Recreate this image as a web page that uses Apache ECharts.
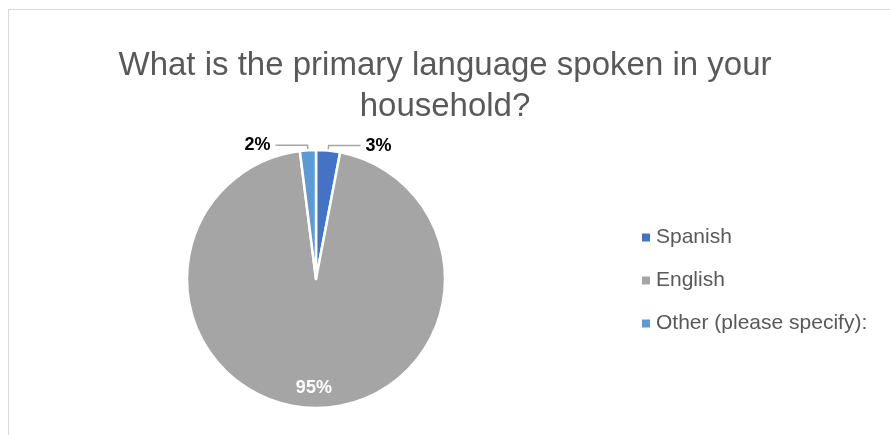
<!DOCTYPE html>
<html>
<head>
<meta charset="utf-8" />
<title>Primary language</title>
<script type="text/javascript" src="https://cdn.jsdelivr.net/npm/echarts@6/dist/echarts.min.js"></script>
</head>
<body style="margin:0;background-color:white;">
<div id="main" style="width:890px;height:435px;"></div>
<script type="text/javascript">
    var categories = ['Spanish', 'English', 'Other (please specify):'];
    var values = [3, 95, 2];
    var colors = ['#4472C4', '#A5A5A5', '#5B9BD5'];

    var myChart = echarts.init(document.getElementById('main'));

    var pieData = [];
    for (var i = 0; i < categories.length; i++) {
        pieData.push({
            name: categories[i],
            value: values[i],
            itemStyle: { color: colors[i] }
        });
    }
    // 95% label sits inside, white
    pieData[1].label = { position: 'inside', color: '#ffffff' };
    pieData[1].labelLine = { show: false };

    myChart.setOption({
        animation: false,
        title: {
            text: 'What is the primary language spoken in your\nhousehold?',
            left: 'center',
            top: 40,
            textStyle: {
                fontFamily: 'Liberation Sans',
                fontSize: 33,
                fontWeight: 'normal',
                color: '#595959',
                lineHeight: 41
            }
        },
        legend: {
            orient: 'vertical',
            left: 635,
            top: 222,
            itemWidth: 10,
            itemHeight: 10,
            itemGap: 22,
            icon: 'rect',
            data: categories,
            textStyle: {
                fontFamily: 'Liberation Sans',
                fontSize: 21,
                color: '#595959'
            }
        },
        graphic: [{
            type: 'rect',
            shape: { x: 8.5, y: 9.5, width: 900, height: 440 },
            style: { fill: 'none', stroke: '#d9d9d9', lineWidth: 1 },
            silent: true
        }],
        series: [{
            type: 'pie',
            center: [316, 279],
            radius: 129,
            startAngle: 90,
            clockwise: true,
            avoidLabelOverlap: false,
            itemStyle: { borderColor: '#ffffff', borderWidth: 2.5 },
            label: {
                show: true,
                formatter: '{d}%',
                fontFamily: 'Liberation Sans',
                fontSize: 18,
                fontWeight: 'bold',
                color: '#000000'
            },
            labelLine: {
                show: true,
                length: 5,
                length2: 32,
                lineStyle: { color: '#a6a6a6', width: 1.5 }
            },
            labelLayout: function (params) {
                if (params.dataIndex === 1) {
                    return { dy: 42 };
                }
                return {};
            },
            data: pieData
        }]
    });
</script>
</body>
</html>
